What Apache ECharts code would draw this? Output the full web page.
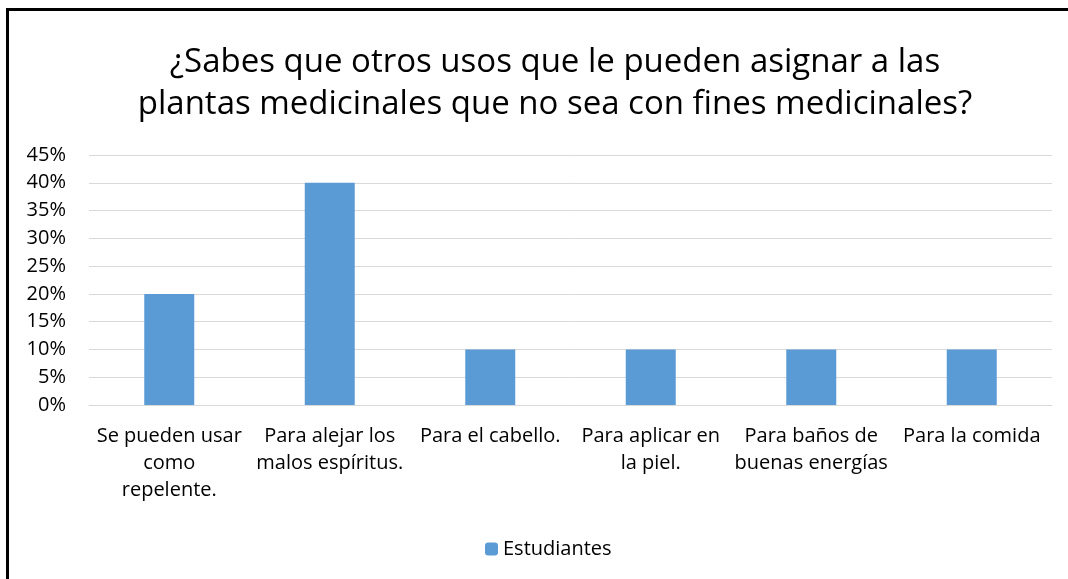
<!DOCTYPE html>
<html>
<head>
<meta charset="utf-8">
<script src="https://cdn.jsdelivr.net/npm/echarts@6/dist/echarts.min.js"></script>
<style>
  html, body { margin: 0; padding: 0; background: #fff; }
  #frame {
    position: absolute; left: 6px; top: 8px; right: 0; bottom: 0;
    border-top: 3px solid #000; border-left: 3px solid #000;
  }
  #chart { position: absolute; left: 0; top: 0; width: 1068px; height: 579px; }
</style>
</head>
<body>
<div id="frame"></div>
<div id="chart"></div>
<script>
// categorias (con el salto de linea como aparece en el grafico)
const categories = [
  'Se pueden usar\ncomo\nrepelente.',
  'Para alejar los\nmalos espíritus.',
  'Para el cabello.',
  'Para aplicar en\nla piel.',
  'Para baños de\nbuenas energías',
  'Para la comida'
];
const estudiantes = [0.20, 0.40, 0.10, 0.10, 0.10, 0.10];
const seriesName = 'Estudiantes';
const titleText = '¿Sabes que otros usos que le pueden asignar a las\nplantas medicinales que no sea con fines medicinales?';

const font = '"Open Sans", sans-serif';
const myChart = echarts.init(document.getElementById('chart'));

const option = {
  animation: false,
  title: {
    text: titleText,
    left: 550, // centro del titulo
    top: 37,
    textAlign: 'center',
    textStyle: { fontFamily: font, fontSize: 33, fontWeight: 'normal', color: '#000', lineHeight: 42 }
  },
  legend: {
    top: 534,
    left: 480,
    itemWidth: 13,
    itemHeight: 13,
    itemGap: 6,
    textStyle: { fontFamily: font, fontSize: 20, color: '#000' },
    data: [seriesName]
  },
  grid: { left: 89, right: 16, top: 155, bottom: 174 },
  xAxis: {
    type: 'category',
    data: categories,
    axisLine: { lineStyle: { color: '#D9D9D9', width: 1 } },
    axisTick: { show: false },
    axisLabel: {
      interval: 0,
      margin: 18,
      fontFamily: font,
      fontSize: 20,
      lineHeight: 27,
      color: '#000'
    }
  },
  yAxis: {
    type: 'value',
    min: 0,
    max: 0.45,
    interval: 0.05,
    axisLine: { show: false },
    axisTick: { show: false },
    splitLine: { lineStyle: { color: '#D9D9D9', width: 1 } },
    axisLabel: {
      margin: 23,
      fontFamily: font,
      fontSize: 20,
      color: '#000',
      formatter: v => Math.round(v * 100) + '%'
    }
  },
  series: [
    {
      name: seriesName,
      type: 'bar',
      data: estudiantes,
      barWidth: 50,
      itemStyle: { color: '#5B9BD5' }
    }
  ]
};

myChart.setOption(option);
</script>
</body>
</html>
